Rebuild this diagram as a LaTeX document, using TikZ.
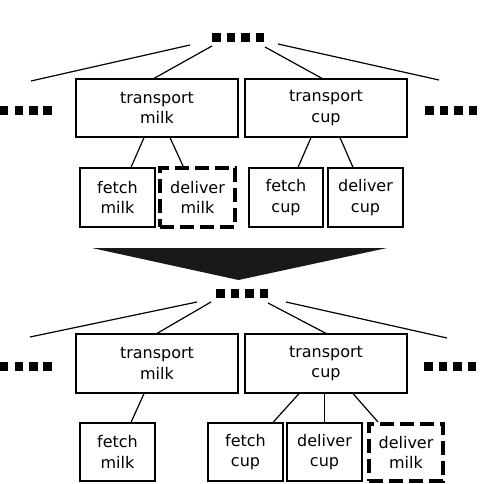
\documentclass[tikz,border=0pt]{standalone}
\usepackage{fontspec}
\setmainfont{DejaVu Sans}
\usetikzlibrary{calc}
\begin{document}
\begin{tikzpicture}[x=1pt,y=-1pt,
  box/.style={draw,line width=1.2pt,align=center,inner sep=0pt,
    font=\fontsize{16}{20.5}\selectfont},
  bigbox/.style={box,minimum width=162pt,minimum height=58pt},
  smallbox/.style={box,minimum width=75pt,minimum height=59pt},
  newbox/.style={box,line width=4pt,dash pattern=on 14pt off 6pt,minimum width=75pt,minimum height=59pt},
  edge/.style={line width=1.2pt},
  dotsnode/.style={inner sep=0pt}]
\useasboundingbox (0,0) rectangle (498,484);
\newcommand{\sq}{\rule{8.5pt}{8.5pt}}
\newcommand{\fourdots}{\sq\hspace{6pt}\sq\hspace{6pt}\sq\hspace{6pt}\sq}
% ---------- upper tree ----------
\node[dotsnode] (dT) at (238,37.5) {\fourdots};
\node[dotsnode] (dL) at (26,110.5) {\fourdots};
\node[dotsnode] (dR) at (451,110.5) {\fourdots};
\node[bigbox] (tm) at (157,108) {transport\\milk};
\node[bigbox] (tc) at (326,108) {transport\\cup};
\node[smallbox] (fm) at (117.5,197.5) {fetch\\milk};
\node[newbox] (dm) at (197.5,197.5) {deliver\\milk};
\node[smallbox,minimum width=74pt] (fc) at (286,197.5) {fetch\\cup};
\node[smallbox] (dc) at (365.5,197.5) {deliver\\cup};
\coordinate (a1) at (190,45);
\coordinate (a2) at (212,46);
\coordinate (a3) at (265,47);
\coordinate (a4) at (278,44);
\coordinate (e1) at (31,81);
\coordinate (e4) at (439,80);
\draw[edge] (a1) -- (e1);
\draw[edge] (a2) -- ([xshift=-3pt]tm.north);
\draw[edge] (a3) -- ([xshift=-4pt]tc.north);
\draw[edge] (a4) -- (e4);
\draw[edge] ([xshift=-13pt]tm.south) -- ([xshift=13.5pt]fm.north);
\draw[edge] ([xshift=13pt]tm.south) -- ([xshift=-14.5pt]dm.north);
\draw[edge] ([xshift=-15pt]tc.south) -- ([xshift=12pt]fc.north);
\draw[edge] ([xshift=14pt]tc.south) -- ([xshift=-12.5pt]dc.north);
% ---------- arrow ----------
\fill[black!90] (92,248) -- (387,248) -- (238.5,280) -- cycle;
% ---------- lower tree ----------
\node[dotsnode] (bT) at (242,293.5) {\fourdots};
\node[dotsnode] (bL) at (26,366.5) {\fourdots};
\node[dotsnode] (bR) at (450,366.5) {\fourdots};
\node[bigbox,minimum height=59pt] (btm) at (157,363.5) {transport\\milk};
\node[bigbox,minimum height=59pt] (btc) at (326,363.5) {transport\\cup};
\node[smallbox,minimum height=58pt] (bfm) at (117.5,452) {fetch\\milk};
\node[smallbox,minimum height=58pt] (bfc) at (245.5,452) {fetch\\cup};
\node[smallbox,minimum height=58pt] (bdc) at (324.5,452) {deliver\\cup};
\node[newbox,minimum width=74pt,minimum height=57pt] (bdm) at (406,452.5) {deliver\\milk};
\coordinate (b1) at (197,302);
\coordinate (b2) at (211,302);
\coordinate (b3) at (268,303);
\coordinate (b4) at (286,302);
\coordinate (f1) at (30,337);
\coordinate (f4) at (447,338);
\draw[edge] (b1) -- (f1);
\draw[edge] (b2) -- (btm.north);
\draw[edge] (b3) -- (btc.north);
\draw[edge] (b4) -- (f4);
\draw[edge] ([xshift=-13pt]btm.south) -- ([xshift=13.5pt]bfm.north);
\draw[edge] ([xshift=-27pt]btc.south) -- ([xshift=27.5pt]bfc.north);
\draw[edge] (btc.south -| bdc.north) -- (bdc.north);
\draw[edge] ([xshift=27pt]btc.south) -- ([xshift=-28pt]bdm.north);
\end{tikzpicture}
\end{document}
